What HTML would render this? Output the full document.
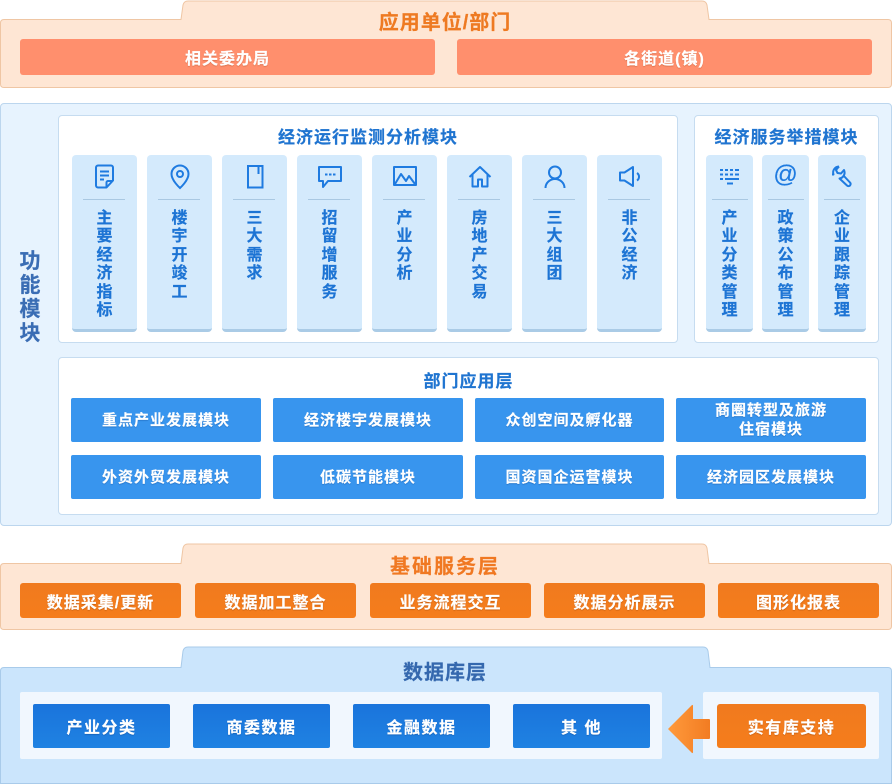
<!DOCTYPE html>
<html><head><meta charset="utf-8">
<style>
*{margin:0;padding:0;box-sizing:border-box}
html,body{width:892px;height:784px;background:#fff;overflow:hidden}
body{position:relative;font-family:"Liberation Sans","Noto Sans CJK SC",sans-serif;font-weight:bold;-webkit-text-stroke:0.2px currentColor}
.a{position:absolute}
.c{position:absolute;display:flex;align-items:center;justify-content:center;text-align:center}
.btnS{background:#ff8f6d;border-radius:3px;color:#fff;font-size:16px;letter-spacing:1px;text-shadow:0 1px 1px rgba(150,60,20,.35)}
.btnO{background:linear-gradient(#f07a1e,#f57d1c);border-radius:3px;color:#fff;font-size:16px;letter-spacing:1px;text-shadow:0 1px 1px rgba(120,50,0,.35)}
.btnB{background:#3895ee;border-radius:2px;color:#fff;font-size:15px;letter-spacing:1px;line-height:19px;text-shadow:0 1px 1px rgba(0,50,120,.3)}
.btnD{background:linear-gradient(#1a74dc,#1f82e2);border-radius:2px;color:#fff;font-size:16px;letter-spacing:1.5px;text-shadow:0 1px 1px rgba(0,40,100,.3)}
.wbox{background:#fff;border:1px solid #c6dcf0;border-radius:4px}
.card{position:absolute;top:155px;height:177px;background:#d4eafc;border-radius:4px;border-bottom:3px solid #aacbe6}
.card .dv{position:absolute;top:44px;height:1px;background:#a9c8e2}
.card .tx{position:absolute;top:55px;left:50%;margin-left:-8px;width:16px;font-size:16px;line-height:18.4px;color:#1d74d4;word-break:break-all}
.card svg{position:absolute;top:9px;left:50%;margin-left:-12px}
.ttl{color:#1f74d0;font-size:17px;letter-spacing:1px}
</style></head><body>

<!-- Top section -->
<svg class="a" style="left:0;top:0" width="892" height="90">
<path d="M0.5,23 Q0.5,19.5 4,19.5 L181,19.5 L183,5 Q184,1 188,1 L702,1 Q706,1 707,5 L709,19.5 L888,19.5 Q891.5,19.5 891.5,23 L891.5,84 Q891.5,87.5 888,87.5 L4,87.5 Q0.5,87.5 0.5,84 Z" fill="#fee6d4" stroke="#efc6a4" stroke-width="1"/>
</svg>
<div class="c" style="left:182px;top:6px;width:526px;height:28px;color:#ee7a22;font-size:20px;letter-spacing:1px">应用单位/部门</div>
<div class="c btnS" style="left:20px;top:39px;width:415px;height:36px">相关委办局</div>
<div class="c btnS" style="left:457px;top:39px;width:415px;height:36px">各街道(镇)</div>

<!-- Function module section -->
<div class="a" style="left:0;top:103px;width:892px;height:423px;background:#e7f3fe;border:1px solid #bcd6ee;border-radius:4px"></div>
<div class="a" style="left:19px;top:250px;width:22px;font-size:21px;line-height:24px;color:#3a6db4;text-align:center">功能模块</div>

<div class="a wbox" style="left:58px;top:115px;width:620px;height:228px"></div>
<div class="c ttl" style="left:58px;top:124px;width:620px;height:22px">经济运行监测分析模块</div>

<div class="a wbox" style="left:694px;top:115px;width:185px;height:228px"></div>
<div class="c ttl" style="left:694px;top:124px;width:185px;height:22px">经济服务举措模块</div>

<!-- cards left -->
<div class="card" style="left:72px;width:65px"><svg width="24" height="26" viewBox="0 0 24 26" fill="none" stroke="#1f7be0" stroke-width="2" stroke-linejoin="round"><path d="M5,1.5 h13 a2,2 0 0 1 2,2 v13 l-6.5,7 h-8.5 a2,2 0 0 1 -2,-2 v-18 a2,2 0 0 1 2,-2 z"/><path d="M13.5,23.5 v-5 a1.5,1.5 0 0 1 1.5,-1.5 h5"/><path d="M7,7.5 h9 M7,11.5 h9 M7,15.5 h4"/></svg><div class="dv" style="left:11px;width:42px"></div><div class="tx">主要经济指标</div></div>
<div class="card" style="left:147px;width:65px"><svg width="24" height="26" viewBox="0 0 24 26" fill="none" stroke="#1f7be0" stroke-width="2"><path d="M12,24 C12,24 3.5,16.5 3.5,10 a8.5,8.5 0 0 1 17,0 c0,6.5 -8.5,14 -8.5,14 z"/><circle cx="12" cy="10" r="3"/></svg><div class="dv" style="left:11px;width:42px"></div><div class="tx">楼宇开竣工</div></div>
<div class="card" style="left:222px;width:65px"><svg width="24" height="26" viewBox="0 0 24 26" fill="none" stroke="#1f7be0" stroke-width="2"><path d="M5,2 h14.5 v21.5 h-14.5 z"/><path d="M15.5,2 v8"/></svg><div class="dv" style="left:11px;width:42px"></div><div class="tx">三大需求</div></div>
<div class="card" style="left:297px;width:65px"><svg width="26" height="26" viewBox="0 0 26 26" style="margin-left:-13px" fill="none" stroke="#1f7be0" stroke-width="2" stroke-linejoin="round"><path d="M2,3 h22 v14 h-13 l-5,6 v-6 h-4 z"/><path d="M8,10.5 h2.5 M12,10.5 h2.5 M16,10.5 h2.5"/></svg><div class="dv" style="left:11px;width:42px"></div><div class="tx">招留增服务</div></div>
<div class="card" style="left:372px;width:65px"><svg width="26" height="26" viewBox="0 0 26 26" style="margin-left:-13px" fill="none" stroke="#1f7be0" stroke-width="2" stroke-linejoin="round"><rect x="2" y="3" width="22" height="18"/><path d="M3,20 l6,-10 l5,7 l3,-5 l6,8"/></svg><div class="dv" style="left:11px;width:42px"></div><div class="tx">产业分析</div></div>
<div class="card" style="left:447px;width:65px"><svg width="26" height="26" viewBox="0 0 26 26" style="margin-left:-13px" fill="none" stroke="#1f7be0" stroke-width="2" stroke-linejoin="round"><path d="M2.5,13 L13,3 L23.5,13"/><path d="M5.5,10.5 v12 h5.5 v-7 h4 v7 h5.5 v-12"/></svg><div class="dv" style="left:11px;width:42px"></div><div class="tx">房地产交易</div></div>
<div class="card" style="left:522px;width:65px"><svg width="24" height="26" viewBox="0 0 24 26" fill="none" stroke="#1f7be0" stroke-width="2"><circle cx="12" cy="8.5" r="6"/><path d="M2.5,24 a9.5,9 0 0 1 19,0"/></svg><div class="dv" style="left:11px;width:42px"></div><div class="tx">三大组团</div></div>
<div class="card" style="left:597px;width:65px"><svg width="24" height="26" viewBox="0 0 24 26" fill="none" stroke="#1f7be0" stroke-width="2" stroke-linejoin="round"><path d="M2,8.5 h4.5 l8.5,-5.5 v19 l-8.5,-5.5 h-4.5 z"/><path d="M19,9 a4.5,4.5 0 0 1 0,7.5"/></svg><div class="dv" style="left:11px;width:42px"></div><div class="tx">非公经济</div></div>

<!-- cards right -->
<div class="card" style="left:706px;width:47px"><svg width="24" height="26" viewBox="0 0 24 26" fill="none" stroke="#1f7be0" stroke-width="2"><path d="M2,6 h3 M7,6 h3 M12,6 h3 M17,6 h4 M2,10.5 h3 M7,10.5 h3 M12,10.5 h3 M17,10.5 h4 M2,15 h3 M7,15 h14 M9,19.5 h6"/></svg><div class="dv" style="left:6px;width:36px"></div><div class="tx">产业分类管理</div></div>
<div class="card" style="left:762px;width:47px"><div class="a" style="left:0;top:6px;width:47px;text-align:center;font-size:24px;line-height:28px;color:#1f7be0;font-weight:normal">@</div><div class="dv" style="left:6px;width:36px"></div><div class="tx">政策公布管理</div></div>
<div class="card" style="left:818px;width:48px"><svg width="24" height="26" viewBox="0 0 24 26" fill="none" stroke="#1f7be0" stroke-width="2" stroke-linejoin="round"><path d="M9,2.5 a6,6 0 0 0 -5.5,8 l-1.5,0 M9,2.5 l-3,3.5 l1.5,3 l3.5,0.5 l3,-3.5 a6,6 0 0 1 -4.5,8.5 l7.5,7 a2,2 0 0 0 3,-3 l-7,-7.5"/></svg><div class="dv" style="left:6px;width:36px"></div><div class="tx">企业跟踪管理</div></div>

<!-- Department layer -->
<div class="a wbox" style="left:58px;top:357px;width:821px;height:158px"></div>
<div class="c ttl" style="left:58px;top:368px;width:821px;height:22px">部门应用层</div>
<div class="c btnB" style="left:71px;top:398px;width:190px;height:44px">重点产业发展模块</div>
<div class="c btnB" style="left:273px;top:398px;width:190px;height:44px">经济楼宇发展模块</div>
<div class="c btnB" style="left:475px;top:398px;width:189px;height:44px">众创空间及孵化器</div>
<div class="c btnB" style="left:676px;top:398px;width:190px;height:44px">商圈转型及旅游<br>住宿模块</div>
<div class="c btnB" style="left:71px;top:455px;width:190px;height:44px">外资外贸发展模块</div>
<div class="c btnB" style="left:273px;top:455px;width:190px;height:44px">低碳节能模块</div>
<div class="c btnB" style="left:475px;top:455px;width:189px;height:44px">国资国企运营模块</div>
<div class="c btnB" style="left:676px;top:455px;width:190px;height:44px">经济园区发展模块</div>

<!-- Base service layer -->
<svg class="a" style="left:0;top:540px" width="892" height="92">
<path d="M0.5,27 Q0.5,23.5 4,23.5 L181,23.5 L183,8 Q184,4 188,4 L702,4 Q706,4 707,8 L709,23.5 L888,23.5 Q891.5,23.5 891.5,27 L891.5,86 Q891.5,89.5 888,89.5 L4,89.5 Q0.5,89.5 0.5,86 Z" fill="#fee6d4" stroke="#efc6a4" stroke-width="1"/>
</svg>
<div class="c" style="left:182px;top:550px;width:526px;height:28px;color:#f07822;font-size:20px;letter-spacing:2px">基础服务层</div>
<div class="c btnO" style="left:20px;top:583px;width:161px;height:35px">数据采集/更新</div>
<div class="c btnO" style="left:195px;top:583px;width:161px;height:35px">数据加工整合</div>
<div class="c btnO" style="left:370px;top:583px;width:161px;height:35px">业务流程交互</div>
<div class="c btnO" style="left:544px;top:583px;width:161px;height:35px">数据分析展示</div>
<div class="c btnO" style="left:718px;top:583px;width:161px;height:35px">图形化报表</div>

<!-- Data layer -->
<svg class="a" style="left:0;top:644px" width="892" height="140">
<path d="M0.5,27 Q0.5,23.5 4,23.5 L181,23.5 L183,7 Q184,3 188,3 L703,3 Q707,3 708,7 L710,23.5 L888,23.5 Q891.5,23.5 891.5,27 L891.5,139.5 L0.5,139.5 Z" fill="#cbe5fc" stroke="#a9cbea" stroke-width="1"/>
</svg>
<div class="c" style="left:182px;top:656px;width:526px;height:28px;color:#3568ae;font-size:20px;letter-spacing:1px">数据库层</div>
<div class="a" style="left:20px;top:692px;width:642px;height:67px;background:#f1f7fe;border-radius:2px"></div>
<div class="c btnD" style="left:33px;top:704px;width:137px;height:44px">产业分类</div>
<div class="c btnD" style="left:193px;top:704px;width:137px;height:44px">商委数据</div>
<div class="c btnD" style="left:353px;top:704px;width:137px;height:44px">金融数据</div>
<div class="c btnD" style="left:513px;top:704px;width:137px;height:44px">其 他</div>
<div class="a" style="left:703px;top:692px;width:176px;height:67px;background:#f1f7fe;border-radius:2px"></div>
<div class="c btnO" style="left:717px;top:704px;width:149px;height:44px;letter-spacing:1.5px">实有库支持</div>
<svg class="a" style="left:660px;top:700px" width="56" height="58">
<defs><linearGradient id="ag" x1="0" y1="0" x2="1" y2="0"><stop offset="0" stop-color="#ff9a3c"/><stop offset="1" stop-color="#f27c22"/></linearGradient></defs>
<path d="M8,29 L32,5 Q33,4.5 33,6 L33,19 L49,19 Q50,19 50,20 L50,38 Q50,39 49,39 L33,39 L33,52 Q33,53.5 32,53 Z" fill="url(#ag)"/>
</svg>

</body></html>
